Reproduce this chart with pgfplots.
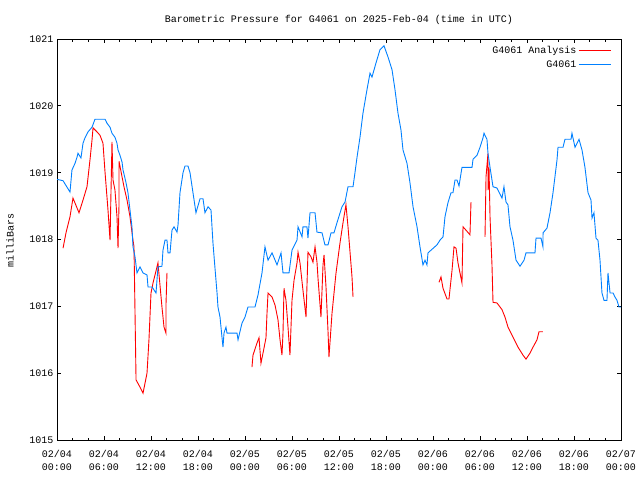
\documentclass[border=0pt]{standalone}
\usepackage{fontspec}
\setmainfont{Liberation Mono}
\usepackage{pgfplots}
\usepackage{pgfplotstable}
\pgfplotsset{compat=1.18}

\definecolor{anared}{RGB}{255,0,0}
\definecolor{obsblue}{RGB}{0,128,255}

% observed pressure, hours since 02/04 00:00 UTC
\pgfplotstableread{
h p
0.00 1018.90
0.77 1018.88
1.66 1018.71
1.91 1019.04
2.30 1019.14
2.55 1019.23
2.68 1019.29
3.06 1019.22
3.32 1019.44
3.57 1019.52
3.96 1019.61
4.47 1019.68
4.85 1019.80
6.13 1019.80
6.38 1019.74
6.77 1019.68
7.02 1019.59
7.40 1019.53
7.66 1019.44
7.79 1019.34
8.04 1019.26
8.30 1019.16
8.43 1019.04
8.81 1018.85
9.06 1018.70
9.32 1018.44
9.57 1018.19
9.70 1017.89
9.96 1017.74
10.21 1017.50
10.60 1017.59
10.98 1017.50
11.49 1017.47
11.62 1017.29
12.13 1017.29
12.64 1017.20
12.89 1017.59
13.40 1017.60
13.53 1017.84
13.79 1017.99
14.04 1017.99
14.17 1017.80
14.43 1017.80
14.68 1018.14
14.94 1018.19
15.32 1018.11
15.45 1018.22
15.70 1018.70
16.09 1019.00
16.34 1019.10
16.72 1019.10
16.98 1019.00
17.36 1018.70
17.74 1018.40
18.26 1018.61
18.64 1018.61
18.89 1018.40
19.28 1018.49
19.66 1018.44
19.91 1017.95
20.17 1017.57
20.43 1017.20
20.55 1016.99
20.81 1016.84
21.06 1016.54
21.19 1016.39
21.32 1016.60
21.57 1016.69
21.70 1016.60
22.98 1016.60
23.11 1016.50
23.62 1016.75
24.00 1016.84
24.38 1016.99
25.28 1016.99
25.66 1017.17
26.17 1017.50
26.55 1017.89
26.94 1017.69
27.45 1017.80
28.09 1017.62
28.60 1017.80
28.85 1017.50
29.62 1017.50
30.00 1017.84
30.64 1017.99
30.77 1018.19
31.28 1018.04
31.40 1018.19
31.91 1018.19
32.04 1018.02
32.30 1018.40
32.94 1018.40
33.19 1018.11
33.83 1018.10
34.21 1017.92
34.60 1017.92
34.98 1018.10
35.36 1018.10
35.74 1018.25
36.38 1018.49
36.77 1018.56
37.15 1018.79
37.79 1018.79
38.04 1019.00
38.30 1019.23
38.68 1019.53
39.06 1019.89
39.57 1020.24
39.96 1020.49
40.21 1020.43
40.72 1020.64
41.23 1020.84
41.74 1020.90
42.26 1020.73
42.77 1020.54
43.15 1020.24
43.53 1019.89
43.91 1019.64
44.17 1019.34
44.68 1019.14
45.06 1018.85
45.45 1018.49
45.96 1018.19
46.34 1017.89
46.72 1017.62
46.98 1017.69
47.23 1017.62
47.36 1017.80
48.51 1017.92
48.89 1017.99
49.28 1018.04
49.53 1018.34
49.91 1018.55
50.30 1018.70
50.55 1018.70
50.81 1018.89
51.06 1018.89
51.32 1018.80
51.70 1019.08
52.98 1019.08
53.11 1019.20
53.62 1019.26
54.00 1019.38
54.38 1019.52
54.51 1019.59
54.89 1019.50
55.02 1019.29
55.28 1019.08
55.66 1018.79
56.17 1018.77
56.81 1018.62
57.06 1018.79
57.32 1018.56
57.57 1018.52
57.83 1018.19
58.21 1017.99
58.60 1017.69
59.11 1017.60
59.62 1017.69
59.87 1017.80
61.02 1017.80
61.15 1018.02
61.79 1018.02
62.04 1017.89
62.05 1018.10
62.55 1018.17
62.94 1018.40
63.32 1018.70
63.83 1019.19
63.96 1019.38
64.60 1019.38
64.85 1019.50
65.62 1019.50
65.74 1019.59
66.13 1019.38
66.64 1019.50
67.02 1019.34
67.40 1019.08
67.79 1018.70
68.17 1018.59
68.30 1018.32
68.55 1018.40
68.81 1018.02
69.06 1017.99
69.32 1017.69
69.57 1017.20
69.83 1017.09
70.21 1017.09
70.34 1017.50
70.60 1017.20
70.98 1017.20
71.23 1017.14
71.49 1017.09
71.74 1016.99
72.00 1016.99
}\obs

% analysis, gaps marked with nan
\pgfplotstableread{
h p
0.77 1017.87
1.15 1018.10
1.66 1018.34
2.04 1018.62
2.81 1018.40
3.32 1018.59
3.83 1018.79
4.21 1019.19
4.47 1019.49
4.60 1019.67
5.11 1019.61
5.49 1019.56
5.87 1019.44
6.13 1019.01
6.51 1018.44
6.77 1017.99
7.02 1019.46
7.15 1018.89
7.40 1018.74
7.66 1018.34
7.79 1017.87
7.91 1018.49
7.92 1019.17
8.30 1018.94
8.55 1018.79
8.94 1018.59
9.32 1018.34
9.70 1017.99
9.83 1017.89
9.96 1016.90
10.09 1015.90
10.60 1015.79
10.98 1015.70
11.49 1016.00
11.74 1016.50
12.00 1017.20
12.26 1017.35
12.89 1017.65
13.40 1016.99
13.66 1016.69
13.91 1016.60
13.92 1017.05
14.04 1017.50
14.10 nan
24.89 1016.09
25.02 1016.27
25.53 1016.45
25.79 1016.53
26.04 1016.15
26.30 1016.30
26.68 1016.53
26.81 1016.90
26.94 1017.20
27.45 1017.14
27.83 1017.02
28.21 1016.80
28.47 1016.50
28.72 1016.27
28.85 1016.60
28.98 1017.27
29.23 1017.09
29.49 1016.69
29.74 1016.27
30.00 1017.09
30.26 1017.39
30.64 1017.65
30.77 1017.81
31.02 1017.65
31.40 1017.24
31.79 1016.84
32.04 1017.81
32.43 1017.74
32.68 1017.66
32.94 1017.89
33.19 1017.66
33.32 1017.42
33.70 1016.84
33.96 1017.62
34.09 1017.77
34.34 1017.29
34.60 1016.62
34.72 1016.24
35.11 1016.90
35.62 1017.50
36.13 1017.95
36.51 1018.25
36.89 1018.52
37.15 1018.19
37.66 1017.44
37.79 1017.14
37.90 nan
48.77 1017.36
49.02 1017.44
49.28 1017.27
49.79 1017.11
50.04 1017.11
50.43 1017.54
50.68 1017.89
50.94 1017.87
51.19 1017.65
51.70 1017.35
51.83 1018.19
52.21 1018.14
52.72 1018.07
52.85 1018.56
53.00 nan
54.64 1018.04
54.77 1018.94
55.02 1019.29
55.03 1018.74
55.15 1019.08
55.28 1018.34
55.40 1017.99
55.53 1017.62
55.66 1017.06
56.17 1017.05
56.81 1016.95
57.19 1016.84
57.57 1016.69
58.21 1016.54
58.85 1016.39
59.49 1016.27
59.87 1016.21
60.38 1016.30
60.77 1016.39
61.28 1016.50
61.53 1016.62
62.04 1016.62
}\ana

\begin{document}
\begin{tikzpicture}[font=\fontsize{10}{12}\selectfont]
\useasboundingbox (0pt,0pt) rectangle (640pt,480pt);
\begin{axis}[
    at={(57pt,40pt)}, anchor=south west,
    scale only axis,
    width=564pt, height=401pt,
    xmin=0, xmax=72,
    ymin=1015, ymax=1021,
    xtick={0,6,...,72},
    minor xtick={2,4,8,10,14,16,20,22,26,28,32,34,38,40,44,46,50,52,56,58,62,64,68,70},
    xticklabels={{02/04\\00:00},{02/04\\06:00},{02/04\\12:00},{02/04\\18:00},
        {02/05\\00:00},{02/05\\06:00},{02/05\\12:00},{02/05\\18:00},
        {02/06\\00:00},{02/06\\06:00},{02/06\\12:00},{02/06\\18:00},{02/07\\00:00}},
    xticklabel style={align=center, font=\fontsize{10}{13}\selectfont, yshift=-7pt},
    ytick={1015,...,1021},
    yticklabel style={/pgf/number format/.cd, fixed, 1000 sep={}},
    /pgf/number format/assume math mode=true,
    tick align=inside,
    major tick length=4pt,
    minor tick length=2.5pt,
    tick style={black, line width=0.8pt},
    axis line style={line width=0.9pt},
    unbounded coords=jump,
    legend cell align=right,
    legend plot pos=right,
    legend style={at={(0.985,0.99)}, anchor=north east, draw=none, fill=none,
        row sep=1.5pt, inner sep=1pt},
    legend image code/.code={\draw[#1] (0pt,0pt) -- (32pt,0pt);},
]
\addplot[anared, line width=0.9pt] table[x=h, y=p] {\ana};
\addlegendentry{G4061 Analysis}
\addplot[obsblue, line width=0.9pt] table[x=h, y=p] {\obs};
\addlegendentry{G4061}
\end{axis}
\node at (339pt,460pt) {Barometric Pressure for G4061 on 2025-Feb-04 (time in UTC)};
\node[rotate=90] at (10pt,240pt) {milliBars};
\end{tikzpicture}
\end{document}
